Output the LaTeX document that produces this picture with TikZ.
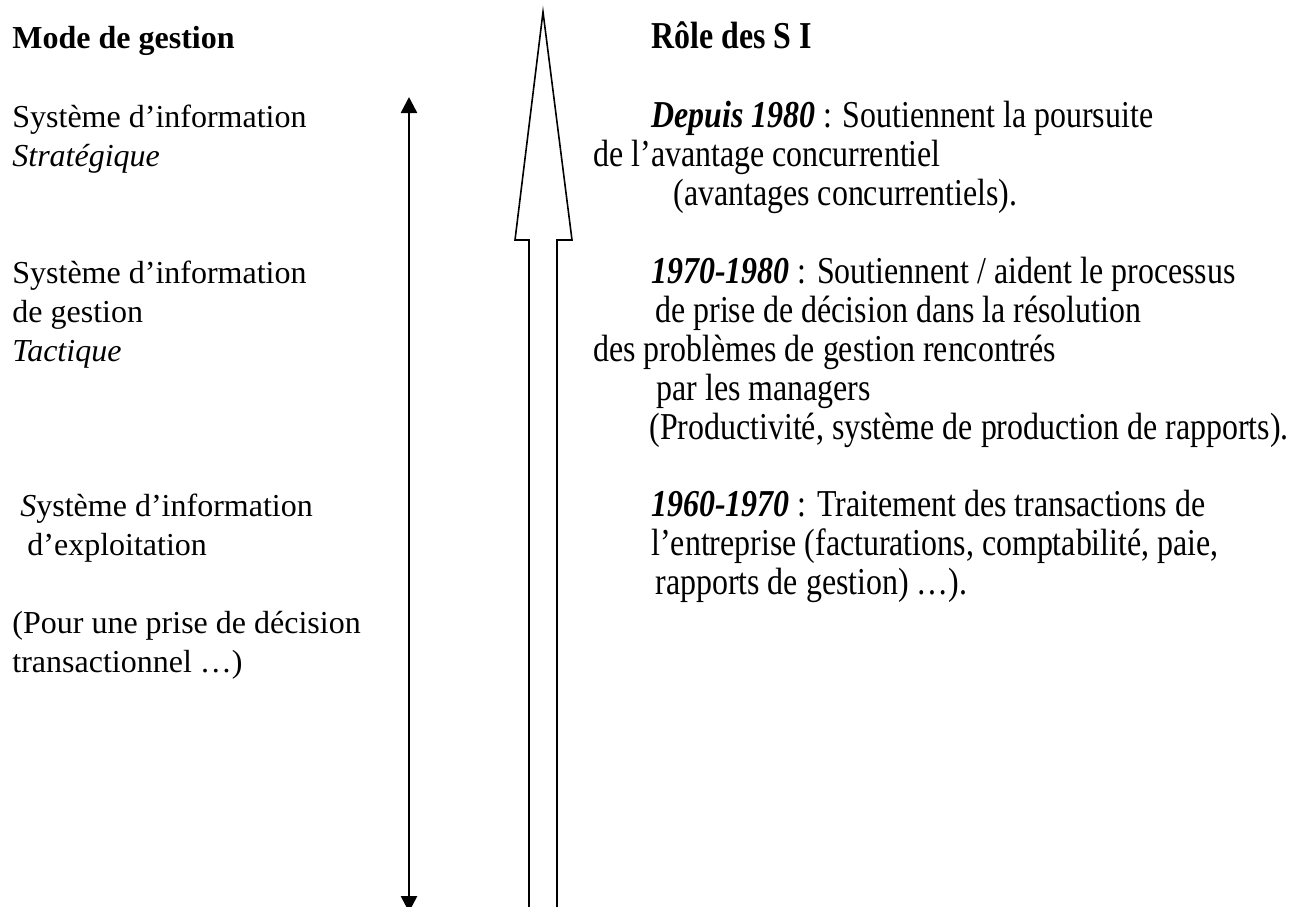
\documentclass[tikz,border=0pt]{standalone}
\usepackage{fontspec}
\setmainfont{Liberation Serif}
\newfontfamily\rolefont[FakeStretch=0.84]{Liberation Serif}
\usetikzlibrary{arrows.meta}

\begin{document}
\begin{tikzpicture}[x=0.5pt, y=-0.5pt, >={Triangle[width=8pt, length=8pt]},
        txt/.style={anchor=base west, inner sep=0pt, font=\fontsize{16}{19}\selectfont},
        rtxt/.style={anchor=base west, inner sep=0pt, font=\fontsize{19}{22}\rolefont}]
        \useasboundingbox (0,0) rectangle (1309,906);

        % Left column: management levels
        \node[txt] (mode) at (12,48) {\textbf{Mode de gestion}};
        \node[txt] (strat1) at (12,127) {Système d’information};
        \node[txt] (strat2) at (12,166) {\textit{Stratégique}};
        \node[txt] (tact1) at (12,283) {Système d’information};
        \node[txt] (tact2) at (12,322) {de gestion};
        \node[txt] (tact3) at (12,361) {\textit{Tactique}};
        \node[txt] (oper1) at (20,516) {\textit{S}ystème d’information};
        \node[txt] (oper2) at (27,555) {d’exploitation};
        \node[txt] (oper3) at (12,633) {(Pour une prise de décision};
        \node[txt] (oper4) at (12,672) {transactionnel …)};

        % Double arrow between the levels
        \coordinate (up) at (409,97);
        \coordinate (down) at (409,912);
        \draw[<->, line width=1.3pt] (down) -- (up);

        % Hollow block arrow: evolution over time
        \draw[line width=0.8pt, line join=miter]
            (529,912) -- (529,240) -- (515,240) -- (543,12)
            -- (572,240) -- (557,240) -- (557,912);

        % Right column: role of the IS
        \node[rtxt] (role) at (651,48) {\textbf{Rôle des S I}};
        \node[rtxt] (r1a) at (651,127) {\textbf{\textit{Depuis 1980}} : Soutiennent la poursuite};
        \node[rtxt] (r1b) at (593,166) {de l’avantage concurrentiel};
        \node[rtxt] (r1c) at (673,205) {(avantages concurrentiels).};
        \node[rtxt] (r2a) at (651,283) {\textbf{\textit{1970-1980}} : Soutiennent / aident le processus};
        \node[rtxt] (r2b) at (655,322) {de prise de décision dans la résolution};
        \node[rtxt] (r2c) at (593,361) {des problèmes de gestion rencontrés};
        \node[rtxt] (r2d) at (656,400) {par les managers};
        \node[rtxt] (r2e) at (649,439) {(Productivité, système de production de rapports).};
        \node[rtxt] (r3a) at (651,516) {\textbf{\textit{1960-1970}} : Traitement des transactions de};
        \node[rtxt] (r3b) at (651,555) {l’entreprise (facturations, comptabilité, paie,};
        \node[rtxt] (r3c) at (655,594) {rapports de gestion) …).};
\end{tikzpicture}
\end{document}
